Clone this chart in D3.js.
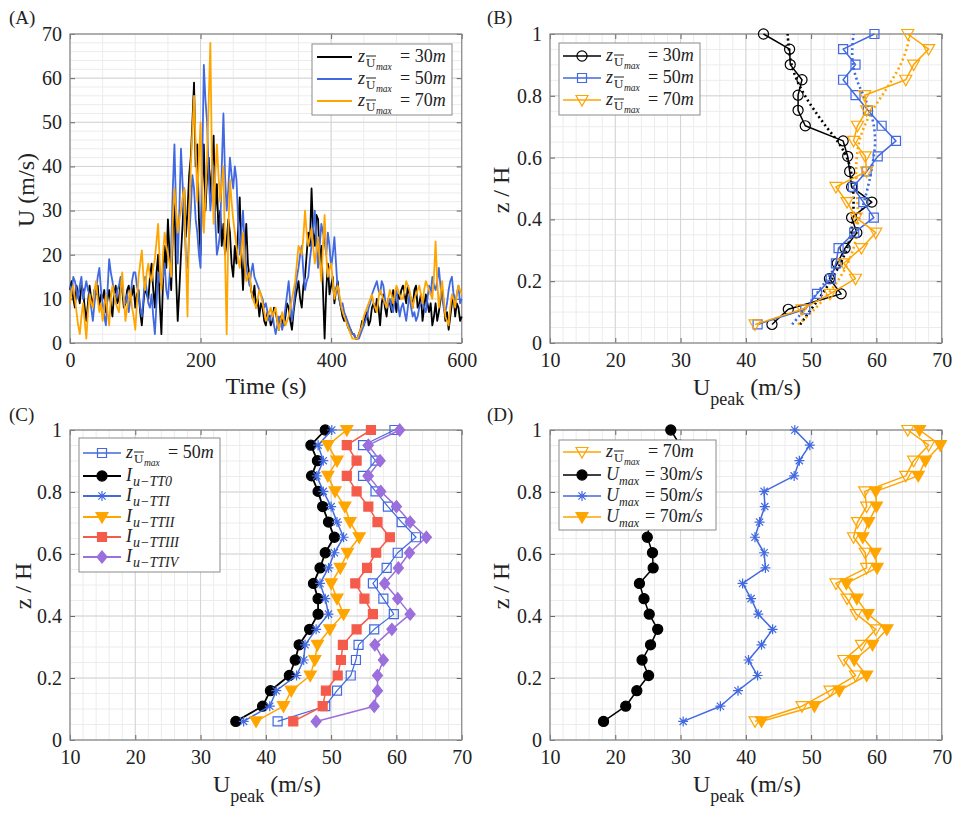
<!DOCTYPE html>
<html><head><meta charset="utf-8">
<script src="https://cdn.jsdelivr.net/npm/d3@7"></script>
<style>body{margin:0;background:#fff} svg{display:block} svg text{font-family:'Liberation Serif','DejaVu Serif','Times New Roman',serif;fill:#222}</style>
</head><body><svg id="c" width="954" height="813"></svg>
<script>
// ---------- DATA ----------
const timeS = [0,2.5,5,7.5,10,12.5,15,17.5,20,22.5,25,27.5,30,32.5,35,37.5,40,42.5,45,47.5,50,52.5,55,57.5,60,62.5,65,67.5,70,72.5,75,77.5,80,82.5,85,87.5,90,92.5,95,97.5,
100,102.5,105,107.5,110,112.5,115,117.5,120,122.5,125,127.5,130,132.5,135,137.5,140,142.5,145,147.5,150,152.5,155,157.5,160,162.5,165,167.5,170,172.5,175,177.5,180,182.5,185,187.5,190,192.5,195,197.5,
200,202.5,205,207.5,210,212.5,215,217.5,220,222.5,225,227.5,230,232.5,235,237.5,240,242.5,245,247.5,250,252.5,255,257.5,260,262.5,265,267.5,270,272.5,275,277.5,280,282.5,285,287.5,290,292.5,295,297.5,
300,302.5,305,307.5,310,312.5,315,317.5,320,322.5,325,327.5,330,332.5,335,337.5,340,342.5,345,347.5,350,352.5,355,357.5,360,362.5,365,367.5,370,372.5,375,377.5,380,382.5,385,387.5,390,392.5,395,397.5,
400,402.5,405,407.5,410,412.5,415,417.5,420,422.5,425,427.5,430,432.5,435,437.5,440,442.5,445,447.5,450,452.5,455,457.5,460,462.5,465,467.5,470,472.5,475,477.5,480,482.5,485,487.5,490,492.5,495,497.5,
500,502.5,505,507.5,510,512.5,515,517.5,520,522.5,525,527.5,530,532.5,535,537.5,540,542.5,545,547.5,550,552.5,555,557.5,560,562.5,565,567.5,570,572.5,575,577.5,580,582.5,585,587.5,590,592.5,595,597.5,600];
const u30 = [12,14,10,8,13,11,9,13,12,8, 5,9,13,10,9,12,11,13,8,11, 10,12,7,10,12,9,6,11,13,9, 10,14,12,8,9,12,13,10,11,13,
 8,11,12,7,4,9,13,11,10,15, 18,12,8,16,20,9,2,14,22,17, 28,20,12,25,33,15,5,12,20,27, 35,24,30,38,42,50,59,40,45,28,
 20,35,45,30,38,42,33,40,47,30, 36,25,30,22,27,20,23,28,25,18, 15,22,18,26,33,20,12,20,27,18, 15,12,10,13,8,10,6,9,8,5,
 4,7,6,4,5,8,7,5,3,6, 5,4,6,9,8,5,3,7,10,12, 14,10,8,13,15,20,25,22,35,25, 22,29,28,18,22,12,1,12,18,11,
 13,15,9,12,14,10,8,6,5,6, 4,3,3,2,2,1,1,2,3,5, 4,6,7,4,5,8,9,7,10,8, 4,9,11,8,6,10,9,7,12,10,
 7,11,10,12,13,11,9,13,11,10, 8,12,13,8,9,11,5,8,11,9, 7,9,4,6,9,5,7,10,12,9, 5,7,3,6,9,11,6,9,8,5, 6];
const u50 = [13,11,15,14,12,10,13,15,10,12, 14,12,11,8,5,9,12,15,17,12, 9,6,4,12,19,16,14,11,10,12, 13,15,12,10,9,11,7,10,14,16,
 16,13,11,8,6,10,15,12,9,8, 11,6,2,9,16,14,13,15,18,12, 10,15,22,35,45,30,18,30,44,36, 28,20,17,24,30,38,35,28,25,20,
 17,40,63,55,50,38,30,35,40,28, 20,22,25,40,52,38,30,35,42,38, 35,40,37,28,20,25,30,22,17,15, 13,16,18,15,14,13,12,11,10,8,
 9,7,5,6,7,4,2,4,6,5, 3,5,8,11,14,9,5,8,12,15, 17,20,22,16,12,14,15,19,22,26, 30,22,17,22,27,25,23,20,25,22,
 17,20,24,18,12,10,8,9,7,6, 5,4,3,2,2,1,1,1,2,3, 4,5,6,8,9,11,12,13,14,12, 11,14,13,10,8,9,10,8,7,10,
 12,9,6,8,9,7,5,8,11,8, 6,7,5,6,8,9,10,8,7,10, 13,11,15,13,12,14,17,13,10,8, 7,9,12,14,15,11,9,11,13,9, 10];
const u70 = [9,12,13,10,7,4,2,6,9,5, 1,7,11,9,8,12,14,10,7,9, 5,8,11,7,4,10,13,11,9,8, 7,12,16,10,5,8,10,12,8,6,
 3,9,15,18,21,15,12,16,18,15, 14,17,19,23,27,18,12,20,25,22, 20,18,15,28,35,30,25,28,30,33, 35,20,6,28,40,48,56,45,32,42,
 50,35,25,33,42,55,68,40,27,38, 45,38,32,36,40,20,2,25,37,32, 28,25,22,19,17,21,25,18,14,15, 16,12,10,9,8,10,12,11,9,7,
 5,6,7,8,6,7,8,5,3,5, 7,5,4,5,6,8,10,12,14,18, 22,21,20,24,30,25,22,24,26,22, 18,21,24,19,14,22,29,20,15,17,
 18,14,10,12,13,11,9,7,6,5, 4,3,2,1,1,1,1,2,3,4, 6,7,8,9,10,11,9,8,7,10, 12,11,10,9,8,10,12,11,9,11,
 13,12,11,10,10,12,14,13,12,10, 8,10,11,12,13,11,9,12,14,13, 12,11,10,15,23,14,8,11,14,10, 6,5,4,8,11,10,8,11,13,12, 11];

const zLevels = [0.06,0.109,0.159,0.208,0.258,0.307,0.357,0.406,0.456,0.505,0.555,0.604,0.654,0.703,0.753,0.802,0.852,0.901,0.951,1.0];
// Panel B
const peak30 = [44.0,46.5,54.6,52.8,54.0,55.2,57.0,56.2,59.3,56.2,55.9,55.6,54.9,49.1,48.0,48.0,48.6,46.8,46.7,42.7];
const peak50 = [41.8,49.1,50.9,53.0,53.8,54.2,56.6,59.6,58.0,56.4,58.5,60.2,63.0,60.8,58.7,56.8,54.9,56.8,54.9,59.7];
const peak70 = [41.4,48.6,52.9,56.8,55.0,57.7,59.9,56.9,55.5,53.8,58.5,58.3,56.5,57.1,58.5,58.2,64.5,65.7,68.0,64.8];
const fit30 = [48.3,50.0,51.7,53.2,54.5,55.5,56.1,56.4,56.5,56.4,56.1,55.4,54.0,52.2,50.5,49.0,47.8,47.0,46.6,46.4];
const fit50 = [47.1,49.0,50.8,52.5,54.0,55.4,56.5,57.4,58.1,58.7,59.2,59.6,59.8,59.6,59.0,58.0,57.0,56.4,56.3,56.5];
const fit70 = [48.0,50.5,52.6,54.3,55.6,56.5,57.0,57.2,57.1,57.0,56.9,57.0,57.4,58.2,59.4,60.9,62.4,63.7,64.6,65.2];
// Panel C
const iTT0 = [35.4,39.5,40.7,43.6,44.5,45.1,46.7,48.0,48.0,47.3,48.3,49.1,50.5,49.6,48.7,48.0,47.0,47.9,46.9,49.1];
const iTTI = [36.6,40.6,41.6,44.7,45.8,46.0,47.7,49.6,49.1,48.3,49.6,50.5,51.9,50.9,50.0,48.8,47.8,48.8,48.0,50.1];
const iTTII = [38.5,42.7,43.9,46.8,47.5,47.9,49.8,51.9,50.9,50.0,51.4,52.5,54.3,52.9,52.1,50.6,49.5,50.9,49.5,52.4];
const iTTIII = [44.2,48.7,49.2,51.0,51.5,51.8,53.9,56.4,55.1,53.7,55.5,56.9,59.0,57.1,55.7,53.9,52.4,53.9,52.4,56.1];
const iTTIV = [47.7,56.6,57.1,57.1,58.0,56.7,59.3,62.1,60.2,58.2,60.3,62.0,64.6,62.1,60.0,57.6,55.7,57.5,55.7,60.5];
// Panel D
const umax30 = [18.2,21.6,23.3,25.1,24.1,25.4,26.5,25.2,24.4,23.7,25.8,25.7,24.9,25.3,25.7,25.7,28.4,28.9,29.9,28.5];
const umax50 = [30.4,36.1,38.8,41.8,40.4,42.4,44.1,41.9,40.8,39.5,43.0,42.8,41.4,42.1,42.9,42.8,47.4,48.2,49.8,47.5];
const umax70 = [42.4,50.5,54.3,58.5,56.6,59.4,61.6,58.7,57.0,55.4,60.1,59.8,57.9,58.8,60.0,59.9,66.4,67.5,69.8,66.6];

const timeTicks = [0,200,400,600];
const uTicks = [0,10,20,30,40,50,60,70];
const peakTicks = [10,20,30,40,50,60,70];
const zTicks = [0,0.2,0.4,0.6,0.8,1];
const zTickLabels = ["0","0.2","0.4","0.6","0.8","1"];

// ---------- STYLE ----------
const FONT = "'Liberation Serif','DejaVu Serif',serif";
const BLACK="#000000", BLUE="#4169e1", ORANGE="#ffa500", RED="#f45b4b", PURPLE="#9b6fdc";
const svg = d3.select("#c");

function panel(o){
  const x = d3.scaleLinear().domain(o.xd).range([o.x0,o.x1]);
  const y = d3.scaleLinear().domain(o.yd).range([o.y1,o.y0]);
  const g = svg.append("g");
  g.append("rect").attr("x",o.x0).attr("y",o.y0).attr("width",o.x1-o.x0).attr("height",o.y1-o.y0).attr("fill","#fff");
  const grid = g.append("g");
  grid.selectAll(null).data(x.ticks(o.xMinorN)).join("line")
    .attr("x1",d=>x(d)).attr("x2",d=>x(d)).attr("y1",o.y0).attr("y2",o.y1)
    .attr("stroke","#ececec").attr("stroke-width",1);
  grid.selectAll(null).data(y.ticks(o.yMinorN)).join("line")
    .attr("y1",d=>y(d)).attr("y2",d=>y(d)).attr("x1",o.x0).attr("x2",o.x1)
    .attr("stroke","#ececec").attr("stroke-width",1);
  grid.selectAll(null).data(o.xt).join("line")
    .attr("x1",d=>x(d)).attr("x2",d=>x(d)).attr("y1",o.y0).attr("y2",o.y1)
    .attr("stroke","#d4d4d4").attr("stroke-width",1);
  grid.selectAll(null).data(o.yt).join("line")
    .attr("y1",d=>y(d)).attr("y2",d=>y(d)).attr("x1",o.x0).attr("x2",o.x1)
    .attr("stroke","#d4d4d4").attr("stroke-width",1);
  const styleAx = (sel)=>{
    sel.attr("font-family",FONT);
    sel.select(".domain").remove();
    sel.selectAll(".tick line").attr("stroke","#666");
    sel.selectAll(".tick text").style("font-family",FONT).attr("font-size",20).attr("fill","#222");
  };
  g.append("g").attr("transform",`translate(0,${o.y1})`)
    .call(d3.axisBottom(x).tickValues(o.xt).tickSize(-5).tickPadding(10).tickFormat(o.xf||(d=>d))).call(styleAx);
  g.append("g").attr("transform",`translate(0,${o.y0})`)
    .call(d3.axisTop(x).tickValues(o.xt).tickSize(-5).tickFormat("")).call(styleAx);
  g.append("g").attr("transform",`translate(${o.x0},0)`)
    .call(d3.axisLeft(y).tickValues(o.yt).tickSize(-5).tickPadding(8).tickFormat(o.yf||(d=>d))).call(styleAx);
  g.append("g").attr("transform",`translate(${o.x1},0)`)
    .call(d3.axisRight(y).tickValues(o.yt).tickSize(-5).tickFormat("")).call(styleAx);
  g.append("rect").attr("x",o.x0).attr("y",o.y0).attr("width",o.x1-o.x0).attr("height",o.y1-o.y0)
    .attr("fill","none").attr("stroke","#8a8a8a").attr("stroke-width",1.2);
  const plot = g.append("g");
  return {x,y,g,plot};
}

// markers
function markerPath(type){
  switch(type){
    case "circle": return d3.symbol(d3.symbolCircle,80)();
    case "square": return "M-4.5,-4.5H4.5V4.5H-4.5Z";
    case "tri": return "M-6,-4.5L6,-4.5L0,6Z";
    case "diamond": return "M0,-6L5,0L0,6L-5,0Z";
    case "star": return "M-5,0H5M0,-5V5M-3.6,-3.6L3.6,3.6M-3.6,3.6L3.6,-3.6";
  }
}
function drawMarker(sel,type,color,filled,sw){
  sel.attr("d",markerPath(type))
    .attr("fill", filled ? color : "none")
    .attr("stroke", color).attr("stroke-width", sw||1.2);
}
function profile(P, vals, color, type, filled, lw, msw){
  const pts = vals.map((v,i)=>[v,zLevels[i]]);
  P.plot.append("path").datum(pts)
    .attr("d", d3.line().x(d=>P.x(d[0])).y(d=>P.y(d[1])))
    .attr("fill","none").attr("stroke",color).attr("stroke-width",lw||1.5).attr("stroke-linejoin","round");
  P.plot.selectAll(null).data(pts).join("path")
    .attr("transform",d=>`translate(${P.x(d[0])},${P.y(d[1])})`)
    .call(s=>drawMarker(s,type,color,filled,msw));
}
function fitLine(P, vals, color){
  const pts = vals.map((v,i)=>[v,zLevels[i]]);
  P.plot.append("path").datum(pts)
    .attr("d", d3.line().curve(d3.curveCatmullRom).x(d=>P.x(d[0])).y(d=>P.y(d[1])))
    .attr("fill","none").attr("stroke",color).attr("stroke-width",2.6).attr("stroke-dasharray","2,3");
}

// label helpers
function T(g){ return g.append("text").style("font-family",FONT); }
function zLabel(g,x,y,val){
  T(g).attr("x",x).attr("y",y).attr("font-size",18).attr("font-style","italic").text("z");
  T(g).attr("x",x+8).attr("y",y+5).attr("font-size",13).text("U");
  g.append("line").attr("x1",x+8).attr("x2",x+18).attr("y1",y-6).attr("y2",y-6).attr("stroke","#222").attr("stroke-width",1);
  T(g).attr("x",x+18).attr("y",y+8).attr("font-size",9.5).attr("font-style","italic").text("max");
  const t = T(g).attr("x",x+42).attr("y",y).attr("font-size",18);
  t.append("tspan").text("= "+val);
  t.append("tspan").attr("font-style","italic").text("m");
}
function iLabel(g,x,y,sub){
  T(g).attr("x",x).attr("y",y).attr("font-size",18).attr("font-style","italic").text("I");
  T(g).attr("x",x+7).attr("y",y+5).attr("font-size",14).attr("font-style","italic").text(sub);
}
function uLabel(g,x,y,val){
  T(g).attr("x",x).attr("y",y).attr("font-size",18).attr("font-style","italic").text("U");
  T(g).attr("x",x+13).attr("y",y+5).attr("font-size",12).attr("font-style","italic").text("max");
  const t = T(g).attr("x",x+39).attr("y",y).attr("font-size",18);
  t.append("tspan").text("= "+val);
  t.append("tspan").attr("font-style","italic").text("m/s");
}
function legendBox(x,y,w,h){
  const g = svg.append("g");
  g.append("rect").attr("x",x).attr("y",y).attr("width",w).attr("height",h).attr("fill","#fff").attr("stroke","#8a8a8a").attr("stroke-width",1);
  return g;
}
function legendSample(g,x1,x2,y,color,type,filled,lw){
  g.append("line").attr("x1",x1).attr("x2",x2).attr("y1",y).attr("y2",y).attr("stroke",color).attr("stroke-width",lw||1.5);
  if(type) g.append("path").attr("transform",`translate(${(x1+x2)/2},${y})`).call(s=>drawMarker(s,type,color,filled));
}
function peakXLabel(cx,by){
  const t = T(svg).attr("x",cx).attr("y",by).attr("text-anchor","middle").attr("font-size",24);
  t.append("tspan").text("U");
  t.append("tspan").attr("font-size",18).attr("dy",10).text("peak");
  t.append("tspan").attr("dy",-10).text(" (m/s)");
}
function rotLabel(x,y,txt){
  T(svg).attr("transform",`translate(${x},${y}) rotate(-90)`).attr("text-anchor","middle").attr("font-size",24).text(txt);
}
function tag(x,y,txt){ T(svg).attr("x",x).attr("y",y).attr("font-size",19).text(txt); }

// ---------- PANEL A ----------
const A = panel({x0:70,x1:461.7,y0:34,y1:343,xd:[0,600],yd:[0,70],xt:timeTicks,yt:uTicks,xMinorN:12,yMinorN:35});
[[u30,BLACK],[u50,BLUE],[u70,ORANGE]].forEach(([s,c])=>{
  A.plot.append("path").datum(s.map((v,i)=>[timeS[i],v]))
    .attr("d",d3.line().x(d=>A.x(d[0])).y(d=>A.y(d[1])))
    .attr("fill","none").attr("stroke",c).attr("stroke-width",1.8).attr("stroke-linejoin","round");
});
{
  const lg = legendBox(312,44,140,71);
  [["30",BLACK,57],["50",BLUE,79],["70",ORANGE,101]].forEach(([v,c,yy])=>{
    legendSample(lg,317,352,yy,c,null,false,2);
    zLabel(lg,358,yy+5,v);
  });
}
tag(9,24,"(A)");
rotLabel(34,190,"U (m/s)");
T(svg).attr("x",266).attr("y",394).attr("text-anchor","middle").attr("font-size",24).text("Time (s)");

// ---------- PANEL B ----------
const B = panel({x0:550,x1:941.7,y0:34,y1:343,xd:[10,70],yd:[0,1],xt:peakTicks,yt:zTicks,xMinorN:30,yMinorN:20,yf:(d,i)=>zTickLabels[i]});
fitLine(B,fit30,BLACK); fitLine(B,fit50,BLUE); fitLine(B,fit70,ORANGE);
profile(B,peak30,BLACK,"circle",false,1.5);
profile(B,peak50,BLUE,"square",false,1.5);
profile(B,peak70,ORANGE,"tri",false,1.5);
{
  const lg = legendBox(559,43,141,72);
  [["30",BLACK,"circle",56],["50",BLUE,"square",78],["70",ORANGE,"tri",100]].forEach(([v,c,m,yy])=>{
    legendSample(lg,563,601,yy,c,m,false,1.5);
    zLabel(lg,606,yy+5,v);
  });
}
tag(487,24,"(B)");
rotLabel(509,190,"z / H");
peakXLabel(747,395);

// ---------- PANEL C ----------
const C = panel({x0:70,x1:461.7,y0:430,y1:740,xd:[10,70],yd:[0,1],xt:peakTicks,yt:zTicks,xMinorN:30,yMinorN:20,yf:(d,i)=>zTickLabels[i]});
profile(C,peak50,BLUE,"square",false,1.2);
profile(C,iTT0,BLACK,"circle",true,1.8);
profile(C,iTTI,BLUE,"star",false,1.5);
profile(C,iTTII,ORANGE,"tri",true,1.5);
profile(C,iTTIII,RED,"square",true,1.5);
profile(C,iTTIV,PURPLE,"diamond",true,1.5);
{
  const lg = legendBox(79,438,141,134);
  legendSample(lg,83,121,453,BLUE,"square",false,1.5); zLabel(lg,126,458,"50");
  const rows=[[BLACK,"circle",true,"u−TT0",476],[BLUE,"star",false,"u−TTI",496],[ORANGE,"tri",true,"u−TTII",517],[RED,"square",true,"u−TTIII",537],[PURPLE,"diamond",true,"u−TTIV",557]];
  rows.forEach(([c,m,f,s,yy])=>{ legendSample(lg,83,121,yy,c,m,f,1.8); iLabel(lg,126,yy+5,s); });
}
tag(9,421,"(C)");
rotLabel(31,586,"z / H");
peakXLabel(267,792);

// ---------- PANEL D ----------
const D = panel({x0:550,x1:941.7,y0:430,y1:740,xd:[10,70],yd:[0,1],xt:peakTicks,yt:zTicks,xMinorN:30,yMinorN:20,yf:(d,i)=>zTickLabels[i]});
profile(D,peak70,ORANGE,"tri",false,1.5);
profile(D,umax30,BLACK,"circle",true,1.5);
profile(D,umax50,BLUE,"star",false,1.5);
profile(D,umax70,ORANGE,"tri",true,1.5);
{
  const lg = legendBox(559,440,157,90);
  legendSample(lg,563,601,452,ORANGE,"tri",false,1.5); zLabel(lg,606,457,"70");
  [[BLACK,"circle",true,"30",475],[BLUE,"star",false,"50",496],[ORANGE,"tri",true,"70",517]].forEach(([c,m,f,v,yy])=>{
    legendSample(lg,563,601,yy,c,m,f,1.5); uLabel(lg,606,yy+5,v);
  });
}
tag(487,421,"(D)");
rotLabel(509,586,"z / H");
peakXLabel(747,792);
</script></body></html>
